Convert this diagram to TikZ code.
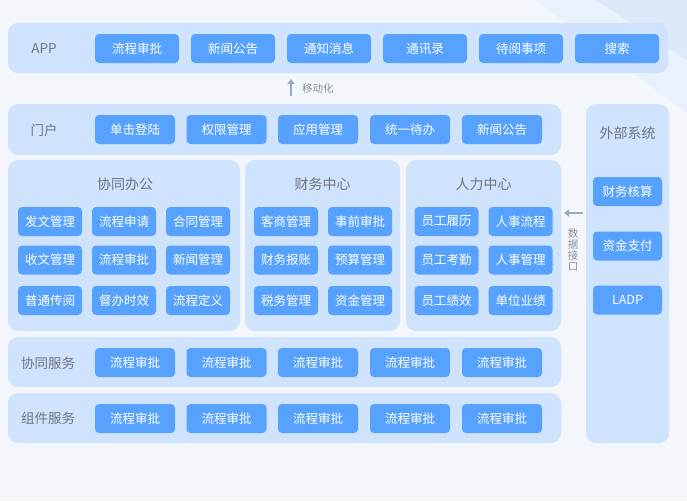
\documentclass[tikz,border=0pt]{standalone}
\usepackage{fontspec}
\setmainfont{Noto Sans CJK SC}
\usetikzlibrary{arrows.meta}
\definecolor{bg}{RGB}{243,246,251}
\definecolor{band1}{RGB}{233,241,252}
\definecolor{band2}{RGB}{221,233,250}
\definecolor{panelc}{RGB}{207,227,253}
\definecolor{btnc}{RGB}{88,162,255}
\definecolor{labc}{RGB}{110,118,130}
\definecolor{arrc}{RGB}{150,170,196}
\tikzset{
  panel/.style={fill=panelc, draw=none, rounded corners=10pt, inner sep=0pt},
  btn/.style={fill=btnc, draw=none, rounded corners=4pt, text=white, font=\fontsize{12.5}{14}\selectfont, minimum height=29pt, inner sep=0pt},
  btnA/.style={btn, minimum width=84pt},
  btnB/.style={btn, minimum width=80pt},
  btnC/.style={btn, minimum width=64pt},
  btnE/.style={btn, minimum width=69pt},
  lab/.style={text=labc, font=\fontsize{13.5}{15}\selectfont, inner sep=0pt},
  ttl/.style={text=labc, font=\fontsize{14}{16}\selectfont, inner sep=0pt},
  small/.style={text=labc!80, font=\fontsize{10.5}{11}\selectfont, inner sep=0pt},
  conn/.style={draw=arrc, line width=1.6pt, -{Triangle[length=5pt,width=7pt]}}
}
\begin{document}
\begin{tikzpicture}[x=1pt,y=-1pt]
\useasboundingbox (0,0) rectangle (687,501);
\fill[bg] (0,0) rectangle (687,501);
\fill[band1] (535,0) -- (687,0) -- (687,113) -- cycle;
\fill[band2] (596,0) -- (687,0) -- (687,60) -- cycle;

% APP row
\node[panel, minimum width=660pt, minimum height=50pt] (apppanel) at (338,48) {};
\node[lab] (applab) at (44,48.5) {APP};
\node[btnA] (a1) at (137,48.5) {流程审批};
\node[btnA] (a2) at (233,48.5) {新闻公告};
\node[btnA] (a3) at (329,48.5) {通知消息};
\node[btnA] (a4) at (425,48.5) {通讯录};
\node[btnA] (a5) at (521,48.5) {待阅事项};
\node[btnA] (a6) at (617,48.5) {搜索};

% mobile arrow
\coordinate (mb) at (291,96);
\coordinate (mt) at (291,79);
\draw[conn] (mb) -- (mt);
\node[small, anchor=west] (mlab) at (302,89) {移动化};

% portal row
\node[panel, minimum width=553pt, minimum height=51pt] (portalpanel) at (284.5,129.5) {};
\node[lab] (portallab) at (44,130) {门户};
\node[btnB] (p1) at (135,129.5) {单击登陆};
\node[btnB] (p2) at (226.5,129.5) {权限管理};
\node[btnB] (p3) at (318,129.5) {应用管理};
\node[btnB] (p4) at (410,129.5) {统一待办};
\node[btnB] (p5) at (502,129.5) {新闻公告};

% external systems
\node[panel, minimum width=83pt, minimum height=339pt] (extpanel) at (627.5,273.5) {};
\node[ttl] (extlab) at (627.5,133) {外部系统};
\node[btnE] (e1) at (627.5,191.5) {财务核算};
\node[btnE] (e2) at (627.5,246) {资金支付};
\node[btnE] (e3) at (627.5,300) {LADP};

% 协同办公
\node[panel, minimum width=232pt, minimum height=171pt] (xtpanel) at (124,245.5) {};
\node[ttl] (xtlab) at (125,184) {协同办公};
\node[btnC] (x11) at (50,221.5) {发文管理};
\node[btnC] (x12) at (124,221.5) {流程申请};
\node[btnC] (x13) at (198,221.5) {合同管理};
\node[btnC] (x21) at (50,260) {收文管理};
\node[btnC] (x22) at (124,260) {流程审批};
\node[btnC] (x23) at (198,260) {新闻管理};
\node[btnC] (x31) at (50,300.5) {普通传阅};
\node[btnC] (x32) at (124,300.5) {督办时效};
\node[btnC] (x33) at (198,300.5) {流程定义};

% 财务中心
\node[panel, minimum width=155pt, minimum height=171pt] (cwpanel) at (322.5,245.5) {};
\node[ttl] (cwlab) at (322.5,184) {财务中心};
\node[btnC] (c11) at (286,221.5) {客商管理};
\node[btnC] (c12) at (360,221.5) {事前审批};
\node[btnC] (c21) at (286,260) {财务报账};
\node[btnC] (c22) at (360,260) {预算管理};
\node[btnC] (c31) at (286,300.5) {税务管理};
\node[btnC] (c32) at (360,300.5) {资金管理};

% 人力中心
\node[panel, minimum width=155pt, minimum height=171pt] (rlpanel) at (483.5,245.5) {};
\node[ttl] (rllab) at (483.5,184) {人力中心};
\node[btnC] (r11) at (446.5,221.5) {员工履历};
\node[btnC] (r12) at (520.5,221.5) {人事流程};
\node[btnC] (r21) at (446.5,260) {员工考勤};
\node[btnC] (r22) at (520.5,260) {人事管理};
\node[btnC] (r31) at (446.5,300.5) {员工绩效};
\node[btnC] (r32) at (520.5,300.5) {单位业绩};

% data interface arrow
\coordinate (ds) at (583,213);
\coordinate (de) at (564,213);
\draw[conn] (ds) -- (de);
\node[small, align=center] (dlab) at (573,250) {数\\据\\接\\口};

% 协同服务
\node[panel, minimum width=553pt, minimum height=50pt] (fwpanel) at (284.5,362) {};
\node[lab] (fwlab) at (48,363) {协同服务};
\node[btnB] (f1) at (135,362.5) {流程审批};
\node[btnB] (f2) at (226.5,362.5) {流程审批};
\node[btnB] (f3) at (318,362.5) {流程审批};
\node[btnB] (f4) at (410,362.5) {流程审批};
\node[btnB] (f5) at (502,362.5) {流程审批};

% 组件服务
\node[panel, minimum width=553pt, minimum height=50pt] (zjpanel) at (284.5,418) {};
\node[lab] (zjlab) at (48,418.5) {组件服务};
\node[btnB] (z1) at (135,418.5) {流程审批};
\node[btnB] (z2) at (226.5,418.5) {流程审批};
\node[btnB] (z3) at (318,418.5) {流程审批};
\node[btnB] (z4) at (410,418.5) {流程审批};
\node[btnB] (z5) at (502,418.5) {流程审批};
\end{tikzpicture}
\end{document}
